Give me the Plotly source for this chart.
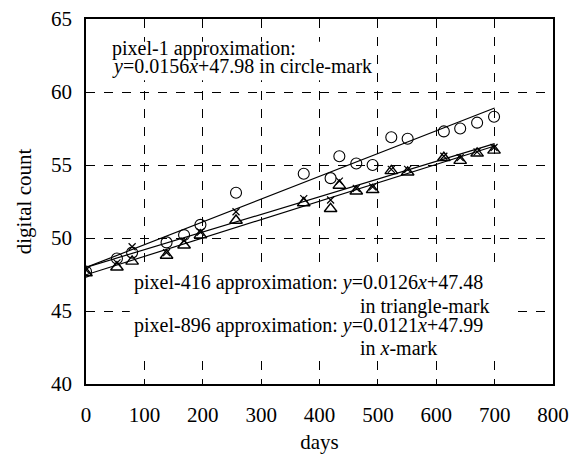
import plotly.graph_objects as go

# Data
days = [0, 53, 79, 138, 168, 196, 257, 373, 419, 434, 463, 491, 523, 551, 613, 641, 670, 699]
pixel1 = [47.7, 48.6, 49.0, 49.7, 50.2, 50.9, 53.1, 54.4, 54.1, 55.6, 55.1, 55.0, 56.9, 56.8, 57.3, 57.5, 57.9, 58.3]
pixel416 = [47.6, 48.0, 48.4, 48.8, 49.5, 50.2, 51.2, 52.4, 52.0, 53.6, 53.2, 53.3, 54.6, 54.5, 55.5, 55.3, 55.8, 56.0]
pixel896 = [47.8, 48.3, 49.4, 49.0, 49.8, 50.4, 51.8, 52.7, 52.6, 53.9, 53.4, 53.5, 54.7, 54.7, 55.6, 55.5, 55.9, 56.2]

# Fit coefficients (slope, intercept) as printed on the chart
fit1 = (0.0156, 47.98)
fit416 = (0.0126, 47.48)
fit896 = (0.0121, 47.99)
fit_range = [0, 700]

x_ticks = [0, 100, 200, 300, 400, 500, 600, 700, 800]
y_ticks = [40, 45, 50, 55, 60, 65]

FONT = "Liberation Serif, Times New Roman, serif"
BLACK = "#000000"

fig = go.Figure()

def fit_line(coef):
    a, b = coef
    return [a * x + b for x in fit_range]

for coef in (fit1, fit416, fit896):
    fig.add_trace(go.Scatter(x=fit_range, y=fit_line(coef), mode="lines",
                             line=dict(color=BLACK, width=1.2), showlegend=False,
                             hoverinfo="skip"))

fig.add_trace(go.Scatter(x=days, y=pixel1, mode="markers", showlegend=False,
                         marker=dict(symbol="circle-open", size=11, color=BLACK,
                                     line=dict(width=1.1, color=BLACK))))
fig.add_trace(go.Scatter(x=days, y=pixel416, mode="markers", showlegend=False,
                         marker=dict(symbol="triangle-up-open", size=11, color=BLACK,
                                     line=dict(width=1.4, color=BLACK))))
fig.add_trace(go.Scatter(x=days, y=pixel896, mode="markers", showlegend=False,
                         marker=dict(symbol="x-thin-open", size=7, color=BLACK,
                                     line=dict(width=1.2, color=BLACK))))

# white panels behind the text blocks (hide the dashed grid, stay under the data)
for (x0, x1, y0, y1) in [(38, 495, 60.8, 63.45), (75, 726, 41.8, 47.8)]:
    fig.add_shape(type="rect", xref="x", yref="y", x0=x0, x1=x1, y0=y0, y1=y1,
                  fillcolor="white", line=dict(width=0), layer="between")

ann_font = dict(family=FONT, size=20, color=BLACK)

def ann(x, y, text):
    fig.add_annotation(x=x, y=y, xref="x", yref="y", text=text, showarrow=False,
                       xanchor="left", yanchor="middle", font=ann_font, borderpad=0)

ann(42.8, 63.0, "pixel-1 approximation:")
ann(42.8, 61.78, "<i>y</i>=0.0156<i>x</i>+47.98 in circle-mark")
ann(80.5, 46.92, "pixel-416 approximation: <i>y</i>=0.0126<i>x</i>+47.48")
ann(467.0, 45.32, "in triangle-mark")
ann(80.5, 44.0, "pixel-896 approximation: <i>y</i>=0.0121<i>x</i>+47.99")
ann(467.0, 42.45, "in <i>x</i>-mark")

axis_common = dict(showgrid=True, gridcolor=BLACK, gridwidth=1, griddash="dash",
                   showline=True, linecolor=BLACK, linewidth=1.5, mirror=True,
                   ticks="", zeroline=False, automargin=False,
                   tickfont=dict(family=FONT, size=21, color=BLACK))

fig.update_xaxes(range=[0, 800], tickvals=x_ticks, ticktext=[str(v) for v in x_ticks],
                 ticklabelstandoff=11,
                 title=dict(text="days", font=dict(family=FONT, size=21, color=BLACK),
                            standoff=14),
                 **axis_common)
fig.update_yaxes(range=[40, 65], tickvals=y_ticks, ticktext=[str(v) for v in y_ticks],
                 ticklabelstandoff=8,
                 title=dict(text="digital count", font=dict(family=FONT, size=21, color=BLACK),
                            standoff=14),
                 **axis_common)

fig.update_layout(width=572, height=454,
                  margin=dict(l=86, r=19, t=19, b=70),
                  paper_bgcolor="white", plot_bgcolor="white",
                  font=dict(family=FONT, color=BLACK))

fig.write_html("out.html")
